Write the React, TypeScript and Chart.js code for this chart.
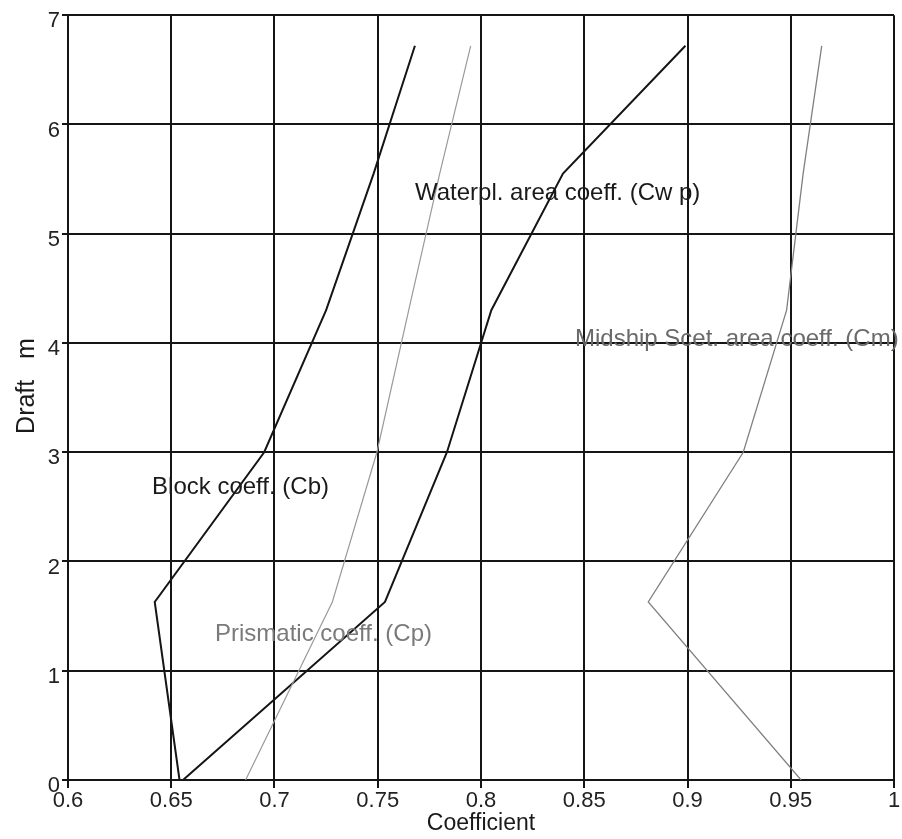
import { useEffect, useRef } from 'react';
import { Chart, registerables } from 'chart.js';

Chart.register(...registerables);

// Draft values (m) at which coefficients were read
const drafts = [0, 1.63, 3.0, 4.3, 5.55, 6.72];
// Coefficient series
const blockCb = [0.654, 0.642, 0.695, 0.725, 0.748, 0.768];
const prismaticCp = [0.686, 0.728, 0.7496, 0.765, 0.78, 0.795];
const waterplaneCwp = [0.6557, 0.7535, 0.7835, 0.805, 0.8397, 0.899];
const midshipCm = [0.955, 0.881, 0.927, 0.948, 0.956, 0.965];

const xTicks = [0.6, 0.65, 0.7, 0.75, 0.8, 0.85, 0.9, 0.95, 1];
const yTicks = [0, 1, 2, 3, 4, 5, 6, 7];

const curveLabels = [
  { text: 'Waterpl. area coeff. (Cw p)', x: 0.768, y: 5.37, color: '#1a1a1a' },
  { text: 'Midship Scet. area coeff. (Cm)', x: 0.8455, y: 4.03, color: '#6a6a6a' },
  { text: 'Block coeff. (Cb)', x: 0.6407, y: 2.68, color: '#1a1a1a' },
  { text: 'Prismatic coeff. (Cp)', x: 0.6712, y: 1.335, color: '#7a7a7a' },
];

const xTitle = 'Coefficient';
const yTitle = 'Draft   m';

const FONT = '"Liberation Sans", Arial, sans-serif';

const toPoints = (xs: number[]) => xs.map((v, i) => ({ x: v, y: drafts[i] }));

const textPlugin = {
  id: 'textPlugin',
  afterDatasetsDraw(chart: any) {
    const { ctx, scales, chartArea } = chart;
    const xs = scales.x;
    const ys = scales.y;
    ctx.save();
    ctx.font = `24px ${FONT}`;
    ctx.textBaseline = 'middle';
    ctx.textAlign = 'left';
    for (const l of curveLabels) {
      ctx.fillStyle = l.color;
      ctx.fillText(l.text, xs.getPixelForValue(l.x), ys.getPixelForValue(l.y));
    }
    // axis titles
    ctx.fillStyle = '#1a1a1a';
    ctx.textAlign = 'center';
    ctx.font = `23px ${FONT}`;
    ctx.fillText(xTitle, (chartArea.left + chartArea.right) / 2, 824);
    ctx.translate(27, 386);
    ctx.rotate(-Math.PI / 2);
    ctx.font = `25px ${FONT}`;
    ctx.fillText(yTitle, 0, 0);
    ctx.restore();
  },
};

export default function App() {
  const ref = useRef<HTMLCanvasElement | null>(null);
  useEffect(() => {
    if (!ref.current) return;
    const chart = new Chart(ref.current, {
      type: 'scatter',
      data: {
        datasets: [
          { label: 'Cb', data: toPoints(blockCb), borderColor: '#151515', borderWidth: 2, showLine: true, pointRadius: 0, tension: 0 },
          { label: 'Cp', data: toPoints(prismaticCp), borderColor: '#9a9a9a', borderWidth: 1.2, showLine: true, pointRadius: 0, tension: 0 },
          { label: 'Cwp', data: toPoints(waterplaneCwp), borderColor: '#151515', borderWidth: 2, showLine: true, pointRadius: 0, tension: 0 },
          { label: 'Cm', data: toPoints(midshipCm), borderColor: '#808080', borderWidth: 1.3, showLine: true, pointRadius: 0, tension: 0 },
        ],
      },
      options: {
        animation: false,
        responsive: false,
        maintainAspectRatio: false,
        layout: { padding: { top: 14, right: 8, left: 0, bottom: 0 } },
        plugins: { legend: { display: false }, tooltip: { enabled: false } },
        scales: {
          x: {
            type: 'linear',
            min: 0.6,
            max: 1,
            afterBuildTicks: (s: any) => { s.ticks = xTicks.map((v) => ({ value: v })); },
            afterFit: (s: any) => { s.height = 59; },
            grid: { color: '#151515', lineWidth: 2, tickLength: 8, drawTicks: true },
            border: { color: '#151515', width: 2 },
            ticks: {
              color: '#222',
              font: { family: FONT, size: 22 },
              padding: 0,
              maxRotation: 0,
              autoSkip: false,
              callback: (v: any) => String(Number(Number(v).toFixed(2))),
            },
          },
          y: {
            type: 'linear',
            min: 0,
            max: 7,
            afterBuildTicks: (s: any) => { s.ticks = yTicks.map((v) => ({ value: v })); },
            afterFit: (s: any) => { s.width = 68; },
            grid: { color: '#151515', lineWidth: 2, tickLength: 6, drawTicks: true },
            border: { color: '#151515', width: 2 },
            ticks: {
              color: '#222',
              font: { family: FONT, size: 22 },
              padding: 2,
              labelOffset: 6,
              autoSkip: false,
              callback: (v: any) => String(v),
            },
          },
        },
      },
      plugins: [textPlugin],
    });
    return () => chart.destroy();
  }, []);
  return (
    <div style={{ position: 'fixed', left: 0, top: 0, width: 902, height: 839, background: '#fff' }}>
      <canvas ref={ref} width={902} height={839} style={{ display: 'block', width: 902, height: 839 }} />
    </div>
  );
}
